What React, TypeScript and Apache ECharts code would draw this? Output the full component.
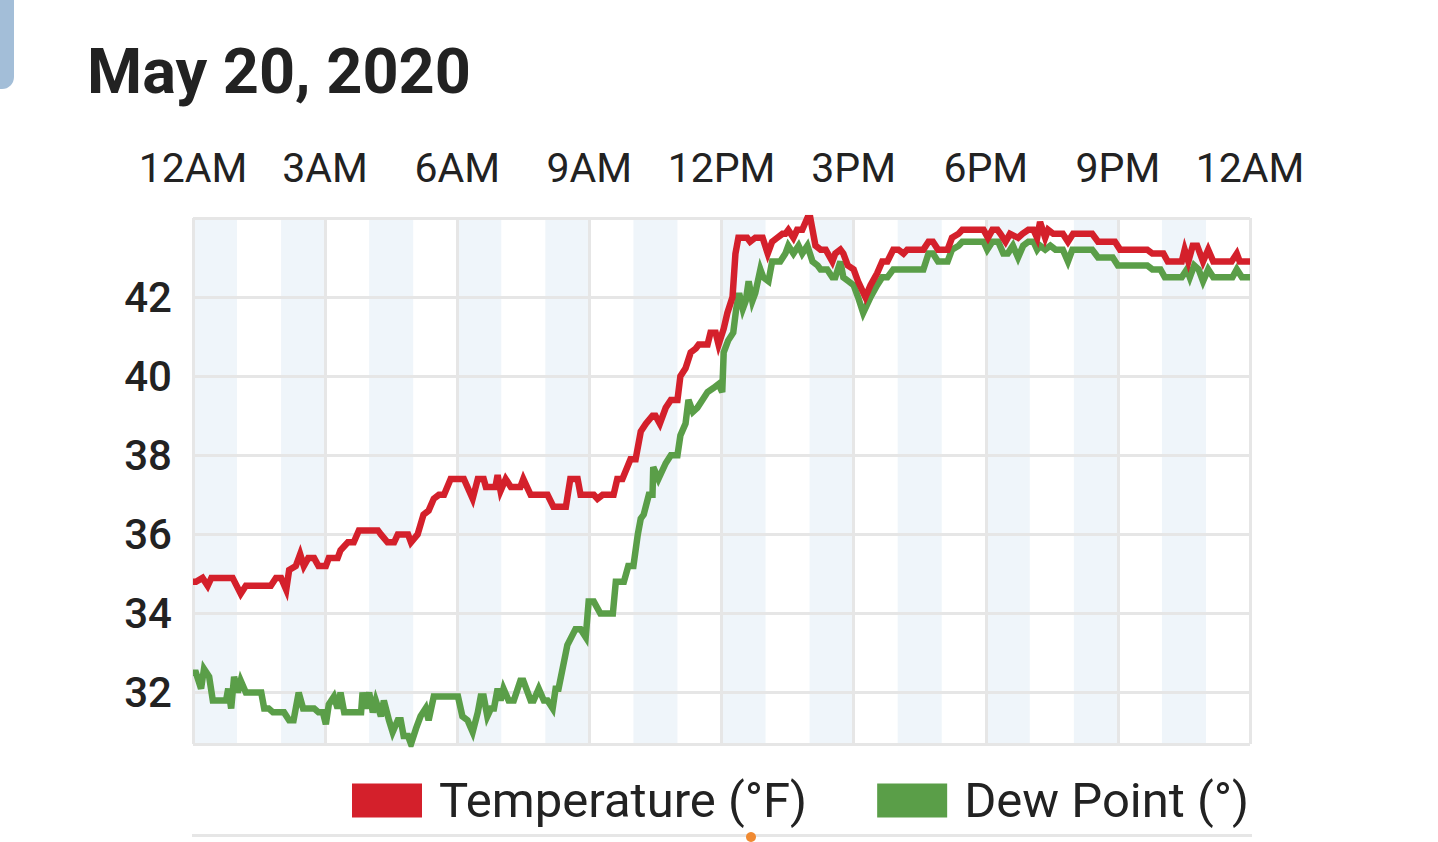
import React, { useEffect, useRef } from "react";
import * as echarts from "echarts";

const titleText = "May 20, 2020";
const xTickLabels = ["12AM", "3AM", "6AM", "9AM", "12PM", "3PM", "6PM", "9PM", "12AM"];
const seriesNames = ["Temperature (°F)", "Dew Point (°)"];

// minutes after midnight
const tempMinutes = [
  0, 4, 13, 20, 25, 54, 65, 72, 106, 113, 120, 127, 131, 140, 146, 151, 157, 165, 171, 181,
  185, 197, 201, 211, 219, 226, 252, 256, 265, 274, 279, 293, 297, 306, 314, 321, 328, 335, 342, 351,
  369, 381, 388, 396, 399, 412, 415, 419, 426, 433, 446, 450, 460, 483, 491, 508, 514, 524, 528, 546,
  551, 558, 573, 578, 585, 596, 603, 610, 617, 626, 630, 636, 644, 651, 660, 664, 671, 678, 685, 689,
  701, 705, 712, 716, 723, 728, 735, 739, 743, 755, 759, 766, 776, 783, 789, 796, 803, 807, 811, 818,
  823, 830, 837, 841, 848, 855, 862, 871, 875, 882, 886, 892, 900, 906, 916, 923, 932, 939, 946, 954,
  961, 968, 973, 995, 1002, 1008, 1015, 1028, 1034, 1043, 1048, 1077, 1083, 1089, 1096, 1100, 1107, 1113, 1124, 1130,
  1138, 1145, 1150, 1154, 1161, 1165, 1172, 1185, 1192, 1199, 1225, 1233, 1256, 1263, 1300, 1307, 1322, 1328, 1347, 1351,
  1356, 1362, 1368, 1376, 1383, 1390, 1415, 1422, 1426, 1440,
];
const tempValues = [
  34.8, 34.8, 34.9, 34.7, 34.9, 34.9, 34.5, 34.7, 34.7, 34.9, 34.9, 34.6, 35.1, 35.2, 35.5, 35.2, 35.4, 35.4, 35.2, 35.2,
  35.4, 35.4, 35.6, 35.8, 35.8, 36.1, 36.1, 36.0, 35.8, 35.8, 36.0, 36.0, 35.8, 36.0, 36.5, 36.6, 36.9, 37.0, 37.0, 37.4,
  37.4, 36.9, 37.4, 37.4, 37.2, 37.2, 37.5, 37.1, 37.4, 37.2, 37.2, 37.4, 37.0, 37.0, 36.7, 36.7, 37.4, 37.4, 37.0, 37.0,
  36.9, 37.0, 37.0, 37.4, 37.4, 37.9, 37.9, 38.6, 38.8, 39.0, 39.0, 38.8, 39.2, 39.4, 39.4, 40.0, 40.2, 40.6, 40.7, 40.8,
  40.8, 41.1, 41.1, 40.8, 41.2, 41.6, 42.0, 43.1, 43.5, 43.5, 43.4, 43.5, 43.5, 43.1, 43.4, 43.5, 43.6, 43.6, 43.7, 43.5,
  43.7, 43.7, 44.0, 44.0, 43.3, 43.2, 43.2, 42.9, 43.1, 43.2, 43.1, 42.8, 42.7, 42.4, 42.0, 42.3, 42.6, 42.9, 42.9, 43.2,
  43.2, 43.1, 43.2, 43.2, 43.4, 43.4, 43.2, 43.2, 43.5, 43.6, 43.7, 43.7, 43.5, 43.7, 43.7, 43.6, 43.4, 43.6, 43.5, 43.6,
  43.7, 43.7, 43.5, 43.9, 43.5, 43.7, 43.6, 43.6, 43.4, 43.6, 43.6, 43.4, 43.4, 43.2, 43.2, 43.1, 43.1, 42.9, 42.9, 43.2,
  42.9, 43.3, 43.3, 42.9, 43.2, 42.9, 42.9, 43.1, 42.9, 42.9,
];

const dewMinutes = [
  0, 4, 11, 15, 22, 27, 45, 48, 52, 56, 61, 65, 72, 93, 97, 103, 109, 124, 131, 137,
  144, 150, 165, 171, 177, 181, 185, 192, 197, 201, 206, 229, 231, 235, 240, 245, 249, 256, 260, 267,
  272, 279, 283, 287, 293, 297, 304, 310, 317, 321, 328, 361, 367, 374, 381, 388, 392, 396, 401, 406,
  410, 415, 419, 423, 430, 437, 446, 450, 460, 464, 471, 478, 483, 490, 494, 498, 510, 521, 528, 535,
  539, 546, 555, 572, 576, 587, 593, 600, 606, 610, 614, 621, 626, 627, 634, 644, 651, 660, 664, 671,
  675, 681, 687, 694, 701, 709, 716, 721, 723, 729, 736, 740, 744, 749, 753, 757, 762, 766, 773, 777,
  784, 789, 800, 807, 811, 818, 825, 830, 837, 844, 851, 855, 864, 871, 875, 882, 886, 893, 900, 906,
  913, 923, 932, 939, 946, 954, 995, 1002, 1008, 1015, 1028, 1034, 1043, 1048, 1077, 1082, 1089, 1097, 1104, 1110,
  1117, 1124, 1131, 1138, 1145, 1150, 1154, 1161, 1168, 1175, 1185, 1192, 1198, 1225, 1233, 1253, 1260, 1300, 1307, 1318,
  1324, 1347, 1354, 1358, 1364, 1370, 1376, 1383, 1390, 1416, 1422, 1429, 1440,
];
const dewValues = [
  32.5, 32.5, 32.1, 32.6, 32.4, 31.8, 31.8, 32.1, 31.6, 32.4, 32.0, 32.3, 32.0, 32.0, 31.6, 31.6, 31.5, 31.5, 31.3, 31.3,
  32.0, 31.6, 31.6, 31.5, 31.5, 31.2, 31.7, 31.9, 31.6, 32.0, 31.5, 31.5, 32.0, 31.6, 32.0, 31.5, 31.8, 31.4, 31.8, 31.3,
  31.0, 31.3, 31.3, 30.9, 30.9, 30.7, 31.1, 31.4, 31.6, 31.3, 31.9, 31.9, 31.4, 31.3, 31.0, 31.5, 31.9, 31.9, 31.4, 31.6,
  31.6, 32.1, 31.8, 32.1, 31.8, 31.8, 32.3, 32.3, 31.8, 31.8, 32.1, 31.8, 31.8, 31.6, 32.1, 32.1, 33.2, 33.6, 33.6, 33.4,
  34.3, 34.3, 34.0, 34.0, 34.8, 34.8, 35.2, 35.2, 36.0, 36.4, 36.5, 37.0, 37.0, 37.7, 37.4, 37.8, 38.0, 38.0, 38.5, 38.8,
  39.4, 39.1, 39.2, 39.4, 39.6, 39.7, 39.8, 39.6, 40.6, 40.9, 41.1, 41.7, 42.1, 41.7, 41.9, 42.4, 41.9, 42.1, 42.7, 42.5,
  42.4, 42.9, 42.9, 43.1, 43.3, 43.1, 43.3, 43.1, 43.3, 42.9, 42.8, 42.7, 42.7, 42.5, 42.5, 42.9, 42.5, 42.4, 42.3, 42.0,
  41.6, 42.0, 42.3, 42.5, 42.5, 42.7, 42.7, 43.1, 43.1, 42.9, 42.9, 43.2, 43.3, 43.4, 43.4, 43.2, 43.4, 43.4, 43.1, 43.1,
  43.3, 43.0, 43.3, 43.4, 43.4, 43.2, 43.3, 43.2, 43.3, 43.2, 43.2, 42.9, 43.2, 43.2, 43.0, 43.0, 42.8, 42.8, 42.7, 42.7,
  42.5, 42.5, 42.7, 42.5, 42.8, 42.7, 42.4, 42.7, 42.5, 42.5, 42.7, 42.5, 42.5,
];

const FONT = "Roboto, 'Noto Sans', sans-serif";
const RED = "#d4202b";
const GREEN = "#5a9e48";

function toPairs(mins: number[], vals: number[]) {
  return mins.map((m, i) => [m / 60, vals[i]]);
}

export default function App() {
  const ref = useRef<HTMLDivElement>(null);
  useEffect(() => {
    if (!ref.current) return;
    const chart = echarts.init(ref.current, undefined, { renderer: "svg" });
    chart.setOption({
      animation: false,
      backgroundColor: "#ffffff",
      title: {
        text: titleText,
        left: 87,
        top: 40,
        padding: 0,
        textStyle: { fontSize: 63, fontWeight: "bold", color: "#222222", fontFamily: FONT, lineHeight: 63 },
      },
      legend: {
        data: seriesNames,
        left: 352,
        top: 776,
        padding: 0,
        icon: "rect",
        itemWidth: 70,
        itemHeight: 34,
        itemGap: 70,
        itemStyle: { borderWidth: 0 },
        textStyle: { fontSize: 49, color: "#222222", fontFamily: FONT, lineHeight: 49, padding: [0, 0, 0, 12] },
      },
      grid: { left: 193, right: 188, top: 218, height: 526, containLabel: false },
      xAxis: [
        {
          type: "value",
          position: "top",
          min: 0,
          max: 24,
          interval: 3,
          z: 1,
          axisLine: { show: false },
          axisTick: { show: false },
          axisLabel: {
            show: true,
            margin: 30,
            fontSize: 41,
            color: "#222222",
            fontFamily: FONT,
            showMinLabel: true,
            showMaxLabel: true,
            formatter: (v: number) => xTickLabels[Math.round(v / 3)] ?? "",
          },
          splitLine: { show: true, lineStyle: { color: "#e6e6e6", width: 3 } },
        },
        {
          type: "value",
          position: "bottom",
          min: 0,
          max: 24,
          interval: 1,
          z: 0,
          axisLine: { show: false },
          axisTick: { show: false },
          axisLabel: { show: false },
          splitLine: { show: false },
          splitArea: { show: true, areaStyle: { color: ["#eff5fa", "rgba(255,255,255,0)"] } },
        },
      ],
      yAxis: {
        type: "value",
        min: 30.7,
        max: 44,
        splitNumber: 7,
        minInterval: 2,
        maxInterval: 2,
        z: 1,
        axisLine: { show: false },
        axisTick: { show: false },
        axisLabel: {
          margin: 21,
          fontSize: 42,
          fontWeight: 500,
          color: "#222222",
          fontFamily: FONT,
          showMinLabel: false,
          showMaxLabel: false,
        },
        splitLine: { show: true, lineStyle: { color: "#e6e6e6", width: 3 } },
      },
      series: [
        {
          name: seriesNames[0],
          type: "line",
          xAxisIndex: 0,
          data: toPairs(tempMinutes, tempValues),
          showSymbol: false,
          symbol: "none",
          color: RED,
          lineStyle: { color: RED, width: 6.5, join: "miter" },
          z: 3,
        },
        {
          name: seriesNames[1],
          type: "line",
          xAxisIndex: 0,
          data: toPairs(dewMinutes, dewValues),
          showSymbol: false,
          symbol: "none",
          color: GREEN,
          lineStyle: { color: GREEN, width: 6.5, join: "miter" },
          z: 2,
        },
      ],
      graphic: [
        {
          type: "rect",
          shape: { x: -20, y: -20, width: 34, height: 109, r: [0, 0, 12, 0] },
          style: { fill: "#a3bed8" },
        },
        {
          type: "rect",
          shape: { x: 192, y: 834, width: 1060, height: 3 },
          style: { fill: "#e6e6e6" },
        },
        {
          type: "circle",
          shape: { cx: 751, cy: 837, r: 5 },
          style: { fill: "#f08a32" },
          z: 10,
        },
      ],
    });
    return () => chart.dispose();
  }, []);
  return (
    <div
      ref={ref}
      style={{ position: "fixed", left: 0, top: 0, width: 1438, height: 842 }}
    />
  );
}
